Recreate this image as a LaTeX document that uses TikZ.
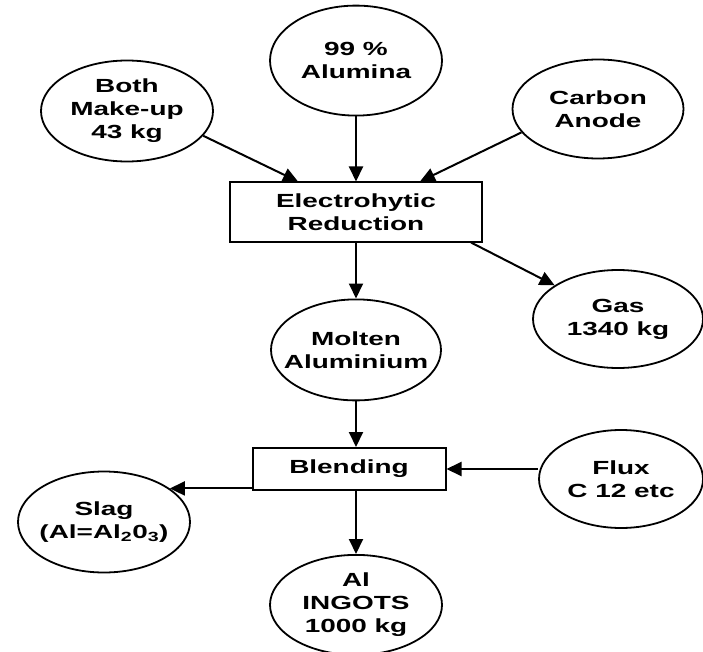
\documentclass[tikz,border=0pt]{standalone}
\usepackage{fontspec}
\setmainfont{Liberation Sans}[FakeStretch=1.47]
\usetikzlibrary{shapes.geometric, arrows.meta, positioning}

\begin{document}
\begin{tikzpicture}[
        x=1pt, y=-1pt,
        disc/.style={ellipse, draw, line width=1.8pt, inner xsep=-14pt, inner ysep=0pt, minimum width=172pt, minimum height=101pt, align=center, font=\fontsize{19}{23}\selectfont\bfseries},
        block/.style={rectangle, draw, line width=2pt, inner sep=0pt, align=center, font=\fontsize{19}{23}\selectfont\bfseries},
        arrow/.style={-{Triangle[length=15pt,width=14pt]}, line width=2pt}
    ]
        \useasboundingbox (0,0) rectangle (703,652);

        % Main column
        \node (reduce) [block, minimum width=252pt, minimum height=59pt] at (356,212) {Electrohytic\\Reduction};
        \node (alumina) [disc, minimum height=110pt, above=65pt of reduce] {99 \%\\Alumina};
        \node (molten) [disc, minimum width=170pt, below=56pt of reduce] {Molten\\Aluminium};
        \node (blend) [block, minimum width=193pt, minimum height=42pt] at (349,469) {Blending};
        \node (ingots) [disc, minimum height=100pt, below=63pt of blend, xshift=7pt] {Al\\INGOTS\\1000 kg};

        % Inputs and outputs
        \node (make) [disc] at (127,111) {Both\\Make-up\\43 kg};
        \node (carbon) [disc, minimum width=171pt, minimum height=99pt] at (598,109) {Carbon\\Anode};
        \node (gas) [disc, minimum width=170pt, minimum height=98pt] at (618,319) {Gas\\1340 kg};
        \node (flux) [disc, minimum width=164pt, minimum height=98pt] at (621,479) {Flux\\C 12 etc};
        \node (slag) [disc] at (104,522) {Slag\\(Al=Al\textsubscript{2}0\textsubscript{3})};

        % Flow arrows
        \draw [arrow] (make.-18) -- ([xshift=-58pt]reduce.north);
        \draw [arrow] (alumina) -- (reduce);
        \draw [arrow] (carbon.197) -- ([xshift=64pt]reduce.north);
        \draw [arrow] ([xshift=-12pt]reduce.south east) -- (gas.152);
        \draw [arrow] (reduce) -- (molten);
        \draw [arrow] (molten.south) -- (molten.south |- blend.north);
        \draw [arrow] (flux.west |- blend.east) -- (blend.east);
        \draw [arrow] (slag.27 -| blend.west) -- (slag.27);
        \draw [arrow] (ingots.north |- blend.south) -- (ingots.north);
    \end{tikzpicture}
\end{document}
